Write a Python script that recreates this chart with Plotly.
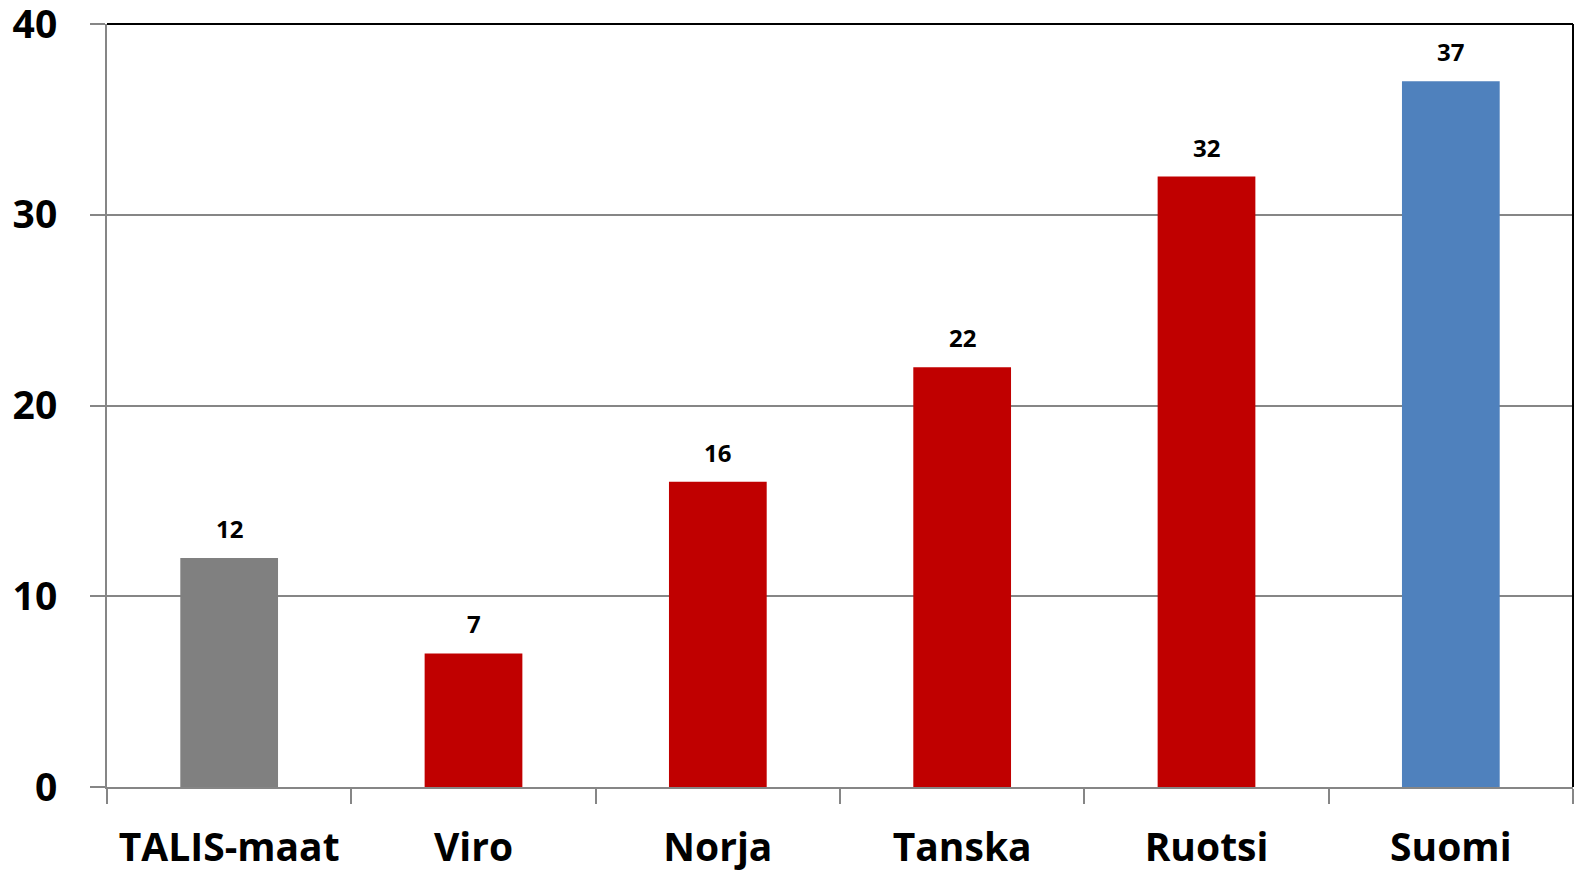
import plotly.graph_objects as go

categories = ["TALIS-maat", "Viro", "Norja", "Tanska", "Ruotsi", "Suomi"]
values = [12, 7, 16, 22, 32, 37]
bar_colors = ["#808080", "#C00000", "#C00000", "#C00000", "#C00000", "#4F81BD"]
y_ticks = [0, 10, 20, 30, 40]

FONT = "Open Sans"

fig = go.Figure()
fig.add_trace(go.Bar(
    x=categories, y=values, marker=dict(color=bar_colors, line=dict(width=0)),
    width=0.4, hoverinfo="x+y",
))

for c, v in zip(categories, values):
    fig.add_annotation(x=c, y=v, text=str(v), showarrow=False, yanchor="bottom",
                       yshift=11, font=dict(family=FONT, size=24, color="black", weight="bold"))

# top and right frame lines (black)
fig.add_shape(type="line", xref="paper", yref="paper", x0=0, x1=1, y0=1, y1=1,
              line=dict(color="black", width=2))
fig.add_shape(type="line", xref="paper", yref="paper", x0=1, x1=1, y0=0, y1=1,
              line=dict(color="black", width=2))

fig.update_layout(
    width=1578, height=873,
    margin=dict(l=107, r=5, t=24, b=86, autoexpand=False),
    paper_bgcolor="white", plot_bgcolor="white",
    showlegend=False,
    font=dict(family=FONT, color="black"),
    xaxis=dict(
        automargin=False,
        showline=True, linecolor="#868686", linewidth=2,
        ticks="outside", ticklen=15, tickcolor="#868686", tickwidth=2,
        tickson="boundaries", showgrid=False,
        tickfont=dict(family=FONT, size=39, color="black", weight="bold"),
        ticklabelstandoff=25, ticklabeloverflow="allow",
    ),
    yaxis=dict(
        automargin=False,
        range=[0, 40], tickvals=y_ticks,
        showline=True, linecolor="#868686", linewidth=2,
        ticks="outside", ticklen=15, tickcolor="#868686", tickwidth=2,
        showgrid=True, gridcolor="#868686", gridwidth=1.5,
        zeroline=False,
        tickfont=dict(family=FONT, size=39, color="black", weight="bold"),
        ticklabelstandoff=25, ticklabeloverflow="allow",
    ),
)

fig.write_html("out.html", config={"displayModeBar": False},
               post_script="document.body.style.margin='0';document.body.style.overflow='hidden';")
